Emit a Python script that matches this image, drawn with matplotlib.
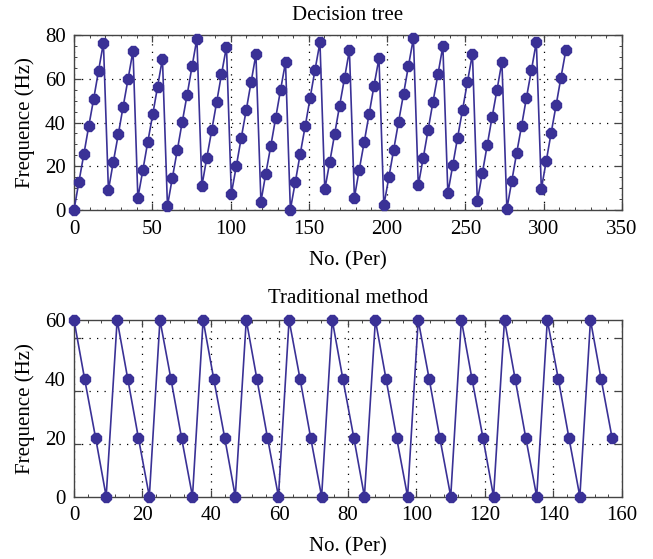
import matplotlib
matplotlib.use("Agg")
import matplotlib.pyplot as plt
from matplotlib.ticker import MultipleLocator, FixedLocator

# ---- data ----
x_tree = [0.0, 3.1, 6.3, 9.4, 12.6, 15.7, 18.8, 22.0, 25.1, 28.3,
          31.4, 34.6, 37.7, 40.8, 44.0, 47.1, 50.3, 53.4, 56.5, 59.7,
          62.8, 66.0, 69.1, 72.3, 75.4, 78.5, 81.7, 84.8, 88.0, 91.1,
          94.2, 97.4, 100.5, 103.7, 106.8, 110.0, 113.1, 116.2, 119.4, 122.5,
          125.7, 128.8, 131.9, 135.1, 138.2, 141.4, 144.5, 147.7, 150.8, 153.9,
          157.1, 160.2, 163.4, 166.5, 169.6, 172.8, 175.9, 179.1, 182.2, 185.4,
          188.5, 191.6, 194.8, 197.9, 201.1, 204.2, 207.3, 210.5, 213.6, 216.8,
          219.9, 223.1, 226.2, 229.3, 232.5, 235.6, 238.8, 241.9, 245.0, 248.2,
          251.3, 254.5, 257.6, 260.8, 263.9, 267.0, 270.2, 273.3, 276.5, 279.6,
          282.7, 285.9, 289.0, 292.2, 295.3, 298.5, 301.6, 304.7, 307.9, 311.0,
          314.2]
y_tree = [0.0, 12.7, 25.5, 38.2, 50.9, 63.7, 76.4, 9.1, 21.9, 34.6,
          47.3, 60.1, 72.8, 5.5, 18.3, 31.0, 43.7, 56.4, 69.2, 1.9,
          14.6, 27.4, 40.1, 52.8, 65.6, 78.3, 11.0, 23.8, 36.5, 49.2,
          62.0, 74.7, 7.4, 20.2, 32.9, 45.6, 58.4, 71.1, 3.8, 16.6,
          29.3, 42.0, 54.8, 67.5, 0.2, 13.0, 25.7, 38.4, 51.2, 63.9,
          76.6, 9.4, 22.1, 34.8, 47.5, 60.3, 73.0, 5.7, 18.5, 31.2,
          43.9, 56.7, 69.4, 2.1, 14.9, 27.6, 40.3, 53.1, 65.8, 78.5,
          11.3, 24.0, 36.7, 49.5, 62.2, 74.9, 7.7, 20.4, 33.1, 45.9,
          58.6, 71.3, 4.1, 16.8, 29.5, 42.3, 55.0, 67.7, 0.5, 13.2,
          25.9, 38.6, 51.4, 64.1, 76.8, 9.6, 22.3, 35.0, 47.8, 60.5,
          73.2]

x_trad = [0.0, 3.1, 6.3, 9.4, 12.6, 15.7, 18.8, 22.0, 25.1, 28.3,
          31.4, 34.6, 37.7, 40.8, 44.0, 47.1, 50.3, 53.4, 56.5, 59.7,
          62.8, 66.0, 69.1, 72.3, 75.4, 78.5, 81.7, 84.8, 88.0, 91.1,
          94.2, 97.4, 100.5, 103.7, 106.8, 110.0, 113.1, 116.2, 119.4, 122.5,
          125.7, 128.8, 131.9, 135.1, 138.2, 141.4, 144.5, 147.7, 150.8, 153.9,
          157.1]
y_trad = [60, 40, 20, 0, 60, 40, 20, 0, 60, 40,
          20, 0, 60, 40, 20, 0, 60, 40, 20, 0,
          60, 40, 20, 0, 60, 40, 20, 0, 60, 40,
          20, 0, 60, 40, 20, 0, 60, 40, 20, 0,
          60, 40, 20, 0, 60, 40, 20, 0, 60, 40,
          20]

titles = ["Decision tree", "Traditional method"]
xlabel = "No. (Per)"
ylabel = "Frequence (Hz)"

top_xticks = [0, 50, 100, 150, 200, 250, 300, 350]
top_yticks = [0, 20, 40, 60, 80]
bot_xticks = [0, 20, 40, 60, 80, 100, 120, 140, 160]
bot_ylabels = [0, 20, 40, 60]
bot_ygrid = [18, 36, 54]

# ---- style ----
plt.rcParams['font.family'] = ['Liberation Serif', 'DejaVu Serif']
FS = 15
LINE_C = '#3a3196'
SPINE_C = '#444444'

fig = plt.figure(figsize=(6.53, 5.59), dpi=100)
ax1 = fig.add_axes([0.1133, 0.6243, 0.8392, 0.3131])
ax2 = fig.add_axes([0.1133, 0.1118, 0.8392, 0.3157])

grid_kw = dict(color='black', linestyle=(0, (1, 5)), linewidth=0.9)


def style(ax):
    for s in ax.spines.values():
        s.set_color(SPINE_C)
        s.set_linewidth(1.0)
    ax.tick_params(which='both', direction='in', top=True, right=True,
                   labelsize=FS, color=SPINE_C)
    ax.tick_params(which='major', length=5, width=0.9)
    ax.tick_params(which='minor', length=2.5, width=0.7)
    ax.tick_params(axis='x', which='both', pad=7)
    ax.tick_params(axis='y', which='both', pad=6)


# top chart
ax1.plot(x_tree, y_tree, color=LINE_C, linewidth=1.2, marker='8',
         markersize=8.5, markerfacecolor=LINE_C, markeredgecolor=LINE_C,
         clip_on=False, zorder=3)
ax1.set_xlim(0, 350)
ax1.set_ylim(0, 80)
ax1.set_xticks(top_xticks)
ax1.set_yticks(top_yticks)
ax1.xaxis.set_minor_locator(MultipleLocator(10))
ax1.yaxis.set_minor_locator(MultipleLocator(5))
ax1.grid(True, which='major', **grid_kw)
style(ax1)
ax1.set_title(titles[0], fontsize=FS, pad=11)
ax1.set_xlabel(xlabel, fontsize=FS, labelpad=9)
ax1.set_ylabel(ylabel, fontsize=FS, labelpad=7)

# bottom chart
ax2.plot(x_trad, y_trad, color=LINE_C, linewidth=1.2, marker='8',
         markersize=8.5, markerfacecolor=LINE_C, markeredgecolor=LINE_C,
         clip_on=False, zorder=3)
ax2.set_xlim(0, 160)
ax2.set_ylim(0, 60)
ax2.set_xticks(bot_xticks)
ax2.xaxis.set_minor_locator(MultipleLocator(4))
# in the reference the labelled levels and the grid/tick levels differ
ax2.yaxis.set_major_locator(FixedLocator(bot_ylabels))
ax2.yaxis.set_minor_locator(FixedLocator(bot_ygrid))
ax2.xaxis.grid(True, which='major', **grid_kw)
ax2.yaxis.grid(True, which='minor', **grid_kw)
style(ax2)
ax2.tick_params(axis='y', which='major', length=0, pad=6)
ax2.tick_params(axis='y', which='minor', length=5, width=0.9)
ax2.set_title(titles[1], fontsize=FS, pad=12)
ax2.set_xlabel(xlabel, fontsize=FS, labelpad=9)
ax2.set_ylabel(ylabel, fontsize=FS, labelpad=7)

fig.savefig('out.png', dpi=100)
